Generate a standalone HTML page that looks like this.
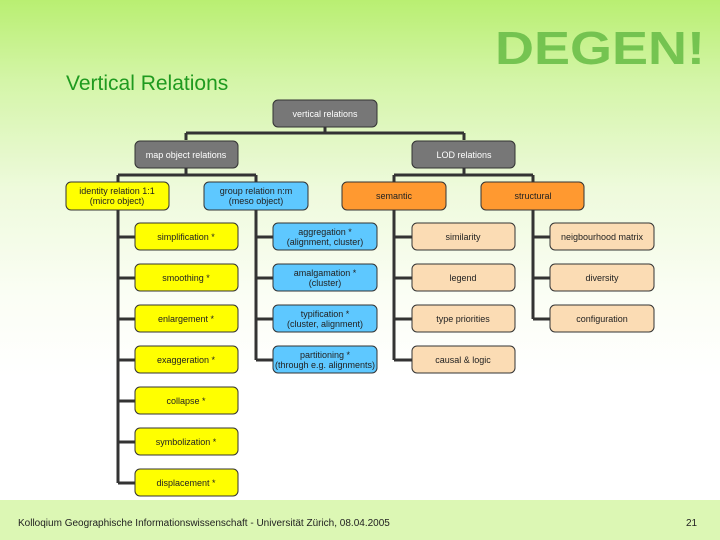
<!DOCTYPE html>
<html><head><meta charset="utf-8"><style>
html,body{margin:0;padding:0}
body{width:720px;height:540px;overflow:hidden;background:linear-gradient(180deg,#b9ef72 0%,#d4f5a8 15%,#eefadc 35%,#fbfef5 55%,#ffffff 70%);font-family:"Liberation Sans",sans-serif;position:relative}
svg{position:absolute;left:0;top:0}
</style></head><body>
<svg width="720" height="540" xmlns="http://www.w3.org/2000/svg" font-family="Liberation Sans, sans-serif">
<rect x="0" y="500" width="720" height="40" fill="#dcf7b4"/>
<text x="495" y="64" font-size="46" font-weight="bold" fill="#6cbf4a" textLength="210" lengthAdjust="spacingAndGlyphs" opacity="0.9">DEGEN!</text>
<text x="66" y="90" font-size="21" fill="#1f9a1f">Vertical Relations</text>
<g stroke="#333" stroke-width="3" fill="none">
<path d="M325 127V133M186 133H464M186 133V140M464 133V140"/>
<path d="M186 168V175M118 175H256M118 175V182M256 175V182"/>
<path d="M464 168V175M394 175H533M394 175V182M533 175V182"/>
<path d="M118 210V483M118 237H135M118 278H135M118 319H135M118 360H135M118 401H135M118 442H135M118 483H135"/>
<path d="M256 210V360M256 237H273M256 278H273M256 319H273M256 360H273"/>
<path d="M394 210V360M394 237H412M394 278H412M394 319H412M394 360H412"/>
<path d="M533 210V319M533 237H550M533 278H550M533 319H550"/>
</g>
<g stroke="#333" stroke-width="1">
<rect x="273" y="100" width="104" height="27" rx="5" fill="#777"/>
<rect x="135" y="141" width="103" height="27" rx="5" fill="#777"/>
<rect x="412" y="141" width="103" height="27" rx="5" fill="#777"/>
<rect x="66" y="182" width="103" height="28" rx="5" fill="#ffff00"/>
<rect x="204" y="182" width="104" height="28" rx="5" fill="#5ec8ff"/>
<rect x="342" y="182" width="104" height="28" rx="5" fill="#ff9930"/>
<rect x="481" y="182" width="103" height="28" rx="5" fill="#ff9930"/>
<g fill="#ffff00">
<rect x="135" y="223" width="103" height="27" rx="5"/><rect x="135" y="264" width="103" height="27" rx="5"/><rect x="135" y="305" width="103" height="27" rx="5"/><rect x="135" y="346" width="103" height="27" rx="5"/><rect x="135" y="387" width="103" height="27" rx="5"/><rect x="135" y="428" width="103" height="27" rx="5"/><rect x="135" y="469" width="103" height="27" rx="5"/>
</g>
<g fill="#5ec8ff">
<rect x="273" y="223" width="104" height="27" rx="5"/><rect x="273" y="264" width="104" height="27" rx="5"/><rect x="273" y="305" width="104" height="27" rx="5"/><rect x="273" y="346" width="104" height="27" rx="5"/>
</g>
<g fill="#fbdcb4">
<rect x="412" y="223" width="103" height="27" rx="5"/><rect x="412" y="264" width="103" height="27" rx="5"/><rect x="412" y="305" width="103" height="27" rx="5"/><rect x="412" y="346" width="103" height="27" rx="5"/>
<rect x="550" y="223" width="104" height="27" rx="5"/><rect x="550" y="264" width="104" height="27" rx="5"/><rect x="550" y="305" width="104" height="27" rx="5"/>
</g>
</g>
<g font-size="9" text-anchor="middle" fill="#222">
<text x="325" y="117" fill="#fff">vertical relations</text>
<text x="186" y="158" fill="#fff">map object relations</text>
<text x="464" y="158" fill="#fff">LOD relations</text>
<text x="117" y="194">identity relation 1:1</text><text x="117" y="204">(micro object)</text>
<text x="256" y="194">group relation n:m</text><text x="256" y="204">(meso object)</text>
<text x="394" y="199">semantic</text>
<text x="533" y="199">structural</text>
<text x="186" y="240">simplification *</text>
<text x="186" y="281">smoothing *</text>
<text x="186" y="322">enlargement *</text>
<text x="186" y="363">exaggeration *</text>
<text x="186" y="404">collapse *</text>
<text x="186" y="445">symbolization *</text>
<text x="186" y="486">displacement *</text>
<text x="325" y="235">aggregation *</text><text x="325" y="245">(alignment, cluster)</text>
<text x="325" y="276">amalgamation *</text><text x="325" y="286">(cluster)</text>
<text x="325" y="317">typification *</text><text x="325" y="327">(cluster, alignment)</text>
<text x="325" y="358">partitioning *</text><text x="325" y="368">(through e.g. alignments)</text>
<text x="463" y="240">similarity</text>
<text x="463" y="281">legend</text>
<text x="463" y="322">type priorities</text>
<text x="463" y="363">causal &amp; logic</text>
<text x="602" y="240">neigbourhood matrix</text>
<text x="602" y="281">diversity</text>
<text x="602" y="322">configuration</text>
</g>
<text x="18" y="526" font-size="10" fill="#222">Kolloqium Geographische Informationswissenschaft - Universität Zürich, 08.04.2005</text>
<text x="686" y="526" font-size="10" fill="#222">21</text>
</svg>
</body></html>
